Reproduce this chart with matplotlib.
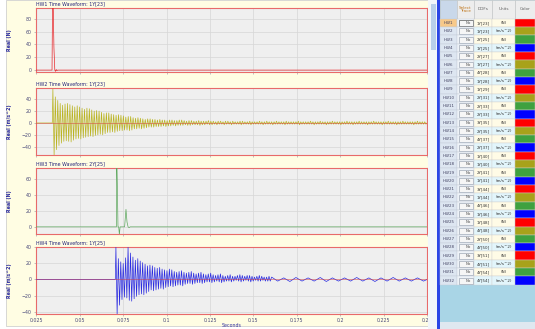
import matplotlib
matplotlib.use("Agg")
import matplotlib.pyplot as plt
from matplotlib.patches import Rectangle

# ---- data ----
x_ticks = [0.025, 0.05, 0.075, 0.1, 0.125, 0.15, 0.175, 0.2, 0.225, 0.25]
x_tick_labels = ["0.025", "0.05", "0.075", "0.1", "0.125", "0.15", "0.175", "0.2", "0.225", "0.25"]

titles = ["HW1 Time Waveform: 1Y[23]", "HW2 Time Waveform: 1Y[23]",
          "HW3 Time Waveform: 2Y[25]", "HW4 Time Waveform: 1Y[25]"]
y_labels = ["Real (N)", "Real (m/s^2)", "Real (N)", "Real (m/s^2)"]
trace_colors = ["#e8262a", "#bab422", "#5fa85f", "#2b2be0"]

# HW1 force pulse
hw1_t = [0.025, 0.0340, 0.0343, 0.0347, 0.0351, 0.0356, 0.0360, 0.0364, 0.0368, 0.0372, 0.25]
hw1_v = [0, 0, 110, 100, 35, 0, -2, 1, -1, 0, 0]

# HW3 force pulses
hw3_t = [0.025, 0.0711, 0.0713, 0.0716, 0.0720, 0.0724, 0.0728, 0.0732, 0.0758, 0.0766, 0.0772, 0.0778, 0.0784, 0.0790, 0.25]
hw3_v = [0, 0, 80, 55, 0, 0, -10, 0, 0, 22, 6, 0, -1, 0, 0]

# HW2 response: successive peaks (upper) and troughs (lower), 0.7 ms apart
hw2_start = 0.0345
hw2_upper = [57, 44, 38, 33, 30, 32, 33, 31, 29, 27,
             29, 27, 25, 23, 25, 24, 22, 20, 21, 20,
             18, 16, 17, 17, 15, 14, 13, 14, 13, 12,
             10, 11, 11, 9, 8, 9, 8, 7, 6, 7,
             7, 6, 6, 5, 6, 5, 5, 4, 5, 5,
             4, 4, 5, 5, 4, 3, 4, 4, 3, 3,
             4, 3, 3, 3, 4, 3, 3, 2, 3, 3,
             2, 3, 3, 2, 3, 2, 2, 3, 3, 2,
             2, 3, 2, 2, 2, 3, 2, 2, 3, 2,
             2, 2, 3, 2, 2, 2, 3, 2, 2, 2,
             2, 3, 2, 2, 2, 2, 3, 2, 2, 2,
             3, 2, 2, 2, 2, 3, 2, 2, 2, 2,
             2, 3, 2, 2, 2, 2, 3, 2, 2, 2,
             2, 2, 3, 2, 2, 2, 2, 2, 3, 2,
             2, 2, 2, 2, 3, 2, 2, 2, 2, 2,
             3, 2, 2, 2]
hw2_lower = [-54, -45, -38, -34, -31, -30, -31, -32, -29, -27,
             -26, -27, -25, -24, -23, -22, -23, -21, -20, -19,
             -20, -18, -16, -16, -15, -16, -14, -13, -13, -12,
             -12, -13, -12, -10, -10, -9, -10, -9, -8, -7,
             -7, -7, -6, -6, -6, -5, -6, -5, -5, -4,
             -5, -4, -4, -4, -3, -4, -4, -3, -3, -3,
             -4, -3, -3, -2, -3, -3, -2, -3, -2, -2,
             -3, -2, -2, -3, -2, -2, -2, -3, -2, -2,
             -2, -3, -2, -2, -2, -2, -3, -2, -2, -2,
             -3, -2, -2, -2, -2, -3, -2, -2, -2, -2,
             -2, -3, -2, -2, -2, -2, -2, -3, -2, -2,
             -2, -2, -3, -2, -2, -2, -2, -2, -3, -2,
             -2, -2, -2, -3, -2, -2, -2, -2, -2, -3,
             -2, -2, -2, -2, -2, -3, -2, -2, -2, -2,
             -2, -3, -2, -2, -2, -2, -2, -2, -3, -2,
             -2, -2, -2, -2]

# HW4 response: dense ringing first, then slower tail
hw4_start = 0.0708
hw4_upper = [40, 26, 22, 20, 27, 40, 33, 28, 24, 26,
             23, 21, 19, 17, 18, 17, 15, 14, 15, 13,
             12, 11, 13, 12, 10, 9, 10, 11, 9, 8,
             9, 10, 8, 7, 8, 9, 7, 6, 7, 8,
             6, 5, 6, 7, 5, 4, 5, 6, 4, 4,
             5, 6, 5, 4, 5, 5, 4, 3, 4, 5,
             4, 3, 3, 4]
hw4_lower = [-43, -32, -25, -22, -23, -26, -27, -24, -21, -19,
             -18, -19, -17, -15, -13, -14, -13, -12, -11, -12,
             -10, -9, -8, -9, -8, -7, -7, -8, -6, -5,
             -5, -6, -5, -4, -4, -5, -4, -3, -3, -4,
             -3, -2, -3, -4, -3, -2, -2, -3, -2, -1,
             -2, -3, -2, -1, -2, -3, -2, -1, -2, -2,
             -1, -2, -2, -2]
hw4_tail_start = 0.1605
hw4_tail_upper = [3, 2, 2.5, 2, 2.5, 2, 2, 2.5, 2, 2, 2.5, 2, 2]
hw4_tail_lower = [-2, -2.5, -2, -2, -2.5, -2, -2, -2, -2.5, -2, -2, -2, -2]

y_limits = [(-3, 97), (-54, 59), (-9, 74), (-43, 40.5)]
y_ticks = [[0, 20, 40, 60, 80], [-40, -20, 0, 20, 40], [0, 20, 40, 60], [-40, -20, 0, 20, 40]]

# table on the right
row_names = ["HW%d" % (i + 1) for i in range(32)]
dofs = ["1Y[23]", "1Y[23]", "2Y[25]", "1Y[25]", "2Y[27]", "1Y[27]", "4Y[28]", "1Y[28]",
        "1Y[29]", "2Y[31]", "2Y[33]", "2Y[33]", "3Y[35]", "2Y[35]", "4Y[37]", "2Y[37]",
        "1Y[40]", "1Y[40]", "2Y[41]", "1Y[41]", "3Y[44]", "1Y[44]", "4Y[46]", "1Y[46]",
        "1Y[48]", "4Y[48]", "2Y[50]", "4Y[50]", "3Y[51]", "4Y[51]", "4Y[54]", "4Y[54]"]
units = ["(N)", "(m/s^2)"] * 16
row_colors = ["#ff0000", "#a8a21a", "#3fa13f", "#0000ff"] * 8


def zigzag(start, step, upper, lower, lead=None):
    # interleave peaks and troughs into one trace
    t, v = [], []
    if lead is not None:
        t += [lead, start - step * 0.5]
        v += [0, 0]
    for i, (u, d) in enumerate(zip(upper, lower)):
        t += [start + 2 * i * step, start + (2 * i + 1) * step]
        v += [u, d]
    return t, v


W, H = 535, 329


def box(x0, y0, x1, y1):
    return [x0 / W, 1 - y1 / H, (x1 - x0) / W, (y1 - y0) / H]


fig = plt.figure(figsize=(5.35, 3.29), dpi=100)
fig.patch.set_facecolor("white")
fig.add_artist(Rectangle((6 / W, 1 - 326 / H), (430 - 6) / W, 326 / H, zorder=-10,
                         transform=fig.transFigure, facecolor="#fffde3", edgecolor="#c8c8c8", lw=0.5))

t2, v2 = zigzag(hw2_start, 0.0007, hw2_upper, hw2_lower, lead=0.025)
t2 += [0.25]
v2 += [0]
t4, v4 = zigzag(hw4_start, 0.0007, hw4_upper, hw4_lower, lead=0.025)
tt, vt = zigzag(hw4_tail_start, 0.0035, hw4_tail_upper, hw4_tail_lower)
t4 += tt + [0.25]
v4 += vt + [0]

series = [(hw1_t, hw1_v), (t2, v2), (hw3_t, hw3_v), (t4, v4)]
rows_px = [(8, 72), (88, 155), (168, 234), (247, 314)]

for k in range(4):
    y0, y1 = rows_px[k]
    ax = fig.add_axes(box(36.4, y0, 427, y1))
    ax.set_facecolor("#efefef")
    ax.plot(series[k][0], series[k][1], color=trace_colors[k], lw=0.5, zorder=3)
    if k in (1, 3):
        ax.axhline(0, color="#e04040", lw=0.6, alpha=0.55, zorder=4)
    ax.set_xlim(0.025, 0.25)
    ax.set_ylim(*y_limits[k])
    ax.set_xticks(x_ticks)
    ax.set_yticks(y_ticks[k])
    ax.grid(True, color="#d6d6d6", lw=0.5)
    ax.set_axisbelow(True)
    for s in ax.spines.values():
        s.set_color("#e86a6a")
        s.set_linewidth(0.8)
    ax.tick_params(length=1.2, width=0.4, color="#9090a0", pad=2,
                   labelsize=3.4, labelcolor="#4a4a7a")
    if k == 3:
        ax.set_xticklabels(x_tick_labels)
        ax.set_xlabel("Seconds", fontsize=3.4, color="#3030a0", labelpad=0)
    else:
        ax.set_xticklabels([])
    ax.text(0.0, 1.02, titles[k], transform=ax.transAxes, fontsize=3.4,
            color="#23237a", va="bottom", ha="left")
    fig.text(10 / W, 1 - (y0 + y1) / 2 / H, y_labels[k], rotation=90, fontsize=3.4,
             color="#2a2aa0", ha="center", va="center", fontweight="bold")

# ---- right hand table ----
tab = fig.add_axes(box(428, 0, 535, 329))
tab.set_xlim(428, 535)
tab.set_ylim(329, 0)
tab.axis("off")

tab.add_patch(Rectangle((428, 0), 107, 329, facecolor="#a9d5e6", edgecolor="none"))
tab.add_patch(Rectangle((428, 0), 9, 329, facecolor="#f2f6fa", edgecolor="none"))
tab.add_patch(Rectangle((430.5, 4), 5, 46, facecolor="#b8cfea", edgecolor="none"))
tab.add_patch(Rectangle((437, 0), 3, 329, facecolor="#2b46e6", edgecolor="none"))
tab.add_patch(Rectangle((440, 322), 95, 7, facecolor="#dfe8f0", edgecolor="none"))

cols = [(440, 457), (457, 474), (474, 492), (492, 515), (515, 535)]
headers = ["", "Select\nTrace", "DOFs", "Units", "Color"]
for j, (a, b) in enumerate(cols):
    fc = "#c9d8ea" if j == 0 else "#ededed"
    tab.add_patch(Rectangle((a, 0), b - a, 18.8, facecolor=fc, edgecolor="#c4c4c4", lw=0.4))
    tab.text((a + b) / 2, 9.4, headers[j], fontsize=3.0, ha="center", va="center",
             color="#c07820" if j == 1 else "#606060", linespacing=0.9)

row_h = 8.31
for i in range(32):
    top = 18.8 + i * row_h
    mid = top + row_h / 2
    hfc = "#f7c98a" if i == 0 else "#dde6f1"
    tab.add_patch(Rectangle((440, top), 17, row_h, facecolor=hfc, edgecolor="#c4ccd8", lw=0.3))
    tab.text(448.5, mid, row_names[i], fontsize=2.9, ha="center", va="center", color="#404060")
    tab.add_patch(Rectangle((457, top), 17, row_h, facecolor="#eef3f8", edgecolor="#c4ccd8", lw=0.3))
    tab.add_patch(Rectangle((459, top + 1.2), 14, row_h - 2.4, facecolor="#f6f6f6",
                            edgecolor="#303030" if i == 0 else "#8a96a6", lw=0.4))
    tab.text(471.5, mid, "No", fontsize=2.8, ha="right", va="center", color="#505050")
    cell = "#fffbe6" if i % 2 == 0 else "#e2f5fb"
    tab.add_patch(Rectangle((474, top), 18, row_h, facecolor=cell, edgecolor="#d0d0d0", lw=0.3))
    tab.text(483, mid, dofs[i], fontsize=2.9, ha="center", va="center", color="#303030")
    tab.add_patch(Rectangle((492, top), 23, row_h, facecolor=cell, edgecolor="#d0d0d0", lw=0.3))
    tab.text(503.5, mid, units[i], fontsize=2.9, ha="center", va="center", color="#303030")
    tab.add_patch(Rectangle((515, top), 20, row_h, facecolor=row_colors[i], edgecolor="#d0d0d0", lw=0.3))

fig.savefig("out.png", dpi=100)
